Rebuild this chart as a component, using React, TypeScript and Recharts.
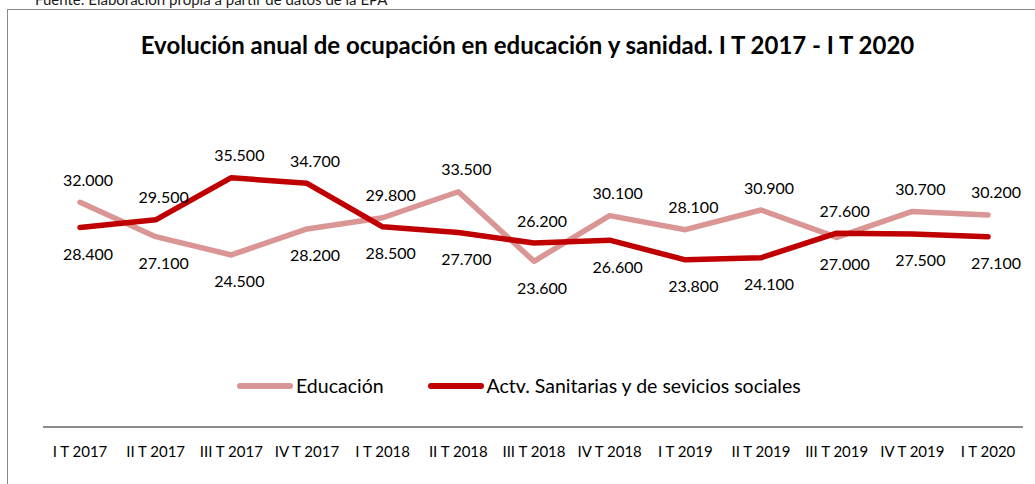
import { LineChart, Line, XAxis, YAxis, Legend, LabelList } from "recharts";

const quarters = [
  "I T 2017", "II T 2017", "III T 2017", "IV T 2017",
  "I T 2018", "II T 2018", "III T 2018", "IV T 2018",
  "I T 2019", "II T 2019", "III T 2019", "IV T 2019",
  "I T 2020",
];
const educacion = [32000, 27100, 24500, 28200, 29800, 33500, 23600, 30100, 28100, 30900, 27000, 30700, 30200];
const sanitarias = [28400, 29500, 35500, 34700, 28500, 27700, 26200, 26600, 23800, 24100, 27600, 27500, 27100];

const EDU_COLOR = "#d99694";
const SAN_COLOR = "#c00000";
const FONT = "Lato, 'Open Sans', sans-serif";

const data = quarters.map((q, i) => ({ q, edu: educacion[i], san: sanitarias[i] }));

// 32000 -> "32.000"
const fmt = (v: number) => String(Math.round(v)).replace(/\B(?=(\d{3})+(?!\d))/g, ".");

// the higher series of each quarter gets its label above, the lower one below
function makeLabel(own: number[], other: number[]) {
  return (props: any) => {
    const { x, y, index, value } = props;
    const above = own[index] >= other[index];
    return (
      <text
        x={x + 8}
        y={above ? y - 23 : y + 26}
        textAnchor="middle"
        dominantBaseline="central"
        fontFamily={FONT}
        fontSize={16}
        fill="#000"
      >
        {fmt(value)}
      </text>
    );
  };
}

const legendItems = [
  { name: "Educación", color: EDU_COLOR },
  { name: "Actv. Sanitarias y de sevicios sociales", color: SAN_COLOR },
];

function renderLegend() {
  return (
    <div style={{ display: "flex", alignItems: "center", paddingLeft: 237, fontFamily: FONT, fontSize: 19.5 }}>
      {legendItems.map((it, i) => (
        <div key={it.name} style={{ display: "flex", alignItems: "center", marginRight: i === 0 ? 44 : 0 }}>
          <span style={{ width: 56, height: 6, borderRadius: 3, background: it.color, marginRight: 3 }} />
          <span style={{ color: "#000" }}>{it.name}</span>
        </div>
      ))}
    </div>
  );
}

export default function App() {
  return (
    <div style={{ position: "relative", width: 1035, height: 484, overflow: "hidden", background: "#fff" }}>
      <style>{"body{margin:0}"}</style>
      <div
        style={{
          position: "absolute", left: 35, top: -8, fontFamily: FONT, fontSize: 15,
          lineHeight: 1, color: "#1a1a1a", whiteSpace: "nowrap",
        }}
      >
        Fuente: Elaboración propia a partir de datos de la EPA
      </div>
      <div
        style={{
          position: "absolute", left: 7, top: 9, width: 1200, height: 600,
          border: "1px solid #8a8a8a",
        }}
      />
      <div
        style={{
          position: "absolute", left: 0, width: 1055, top: 31, textAlign: "center",
          fontFamily: FONT, fontSize: 24, fontWeight: 700, color: "#000", lineHeight: 1.2,
        }}
      >
        Evolución anual de ocupación en educación y sanidad. I T 2017 - I T 2020
      </div>
      <div style={{ position: "absolute", left: 0, top: 0 }}>
        <LineChart width={1035} height={484} data={data} margin={{ top: 111, right: 12, bottom: 0, left: 43 }}>
          <YAxis hide domain={[0, 45000]} />
          <XAxis
            dataKey="q"
            height={57}
            interval={0}
            padding={{ left: 37, right: 35 }}
            axisLine={{ stroke: "#8c8c8c", strokeWidth: 2 }}
            tickLine={false}
            tickSize={0}
            tickMargin={19}
            tick={{ fill: "#000", fontSize: 15, fontFamily: FONT }}
          />
          <Legend
            layout="horizontal"
            verticalAlign="middle"
            align="center"
            content={renderLegend}
            wrapperStyle={{ top: 374, left: 0, width: 1035 }}
          />
          <Line
            dataKey="edu"
            name="Educación"
            stroke={EDU_COLOR}
            strokeWidth={5.5}
            strokeLinecap="round"
            strokeLinejoin="round"
            dot={false}
            activeDot={false}
            isAnimationActive={false}
          >
            <LabelList dataKey="edu" content={makeLabel(educacion, sanitarias)} />
          </Line>
          <Line
            dataKey="san"
            name="Actv. Sanitarias y de sevicios sociales"
            stroke={SAN_COLOR}
            strokeWidth={5.5}
            strokeLinecap="round"
            strokeLinejoin="round"
            dot={false}
            activeDot={false}
            isAnimationActive={false}
          >
            <LabelList dataKey="san" content={makeLabel(sanitarias, educacion)} />
          </Line>
        </LineChart>
      </div>
    </div>
  );
}
